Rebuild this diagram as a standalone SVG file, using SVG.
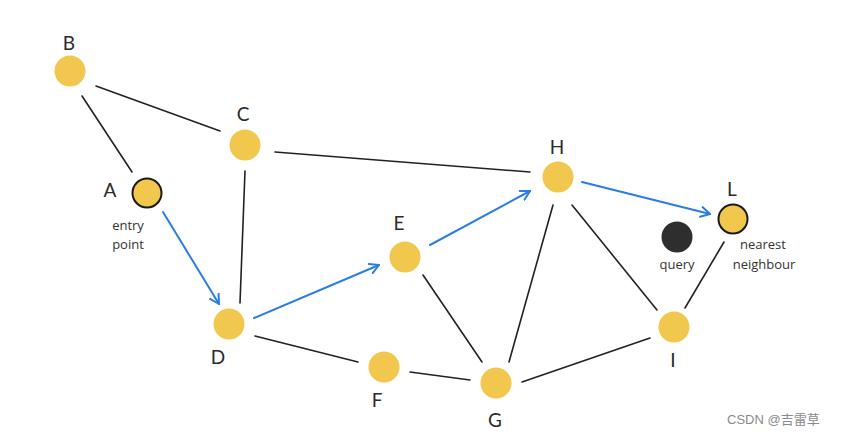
<svg xmlns="http://www.w3.org/2000/svg" width="842" height="438" viewBox="0 0 842 438">
<defs>
<style>
.n{fill:#F1C74E}
.ns{fill:#F1C74E;stroke:#1a1a1a;stroke-width:2}
.q{fill:#2e2e2e}
.e{stroke:#222;stroke-width:1.6;fill:none;stroke-linecap:round}
.a{stroke:#2a7de1;stroke-width:2;fill:none;stroke-linecap:round;marker-end:url(#arr)}
.lbl{font-family:"Lato","DejaVu Sans",sans-serif;font-size:19px;fill:#2a2a2a;text-anchor:middle}
.sm{font-family:"Open Sans","DejaVu Sans",sans-serif;font-size:13px;fill:#333;text-anchor:middle}
.wm{font-family:"Liberation Sans","Noto Sans CJK SC",sans-serif;font-size:13px;fill:#8a8a8a}
</style>
<marker id="arr" viewBox="0 0 12 12" refX="10" refY="6" markerWidth="12" markerHeight="12" markerUnits="userSpaceOnUse" orient="auto">
<path d="M1,1 L10,6 L1,11" fill="none" stroke="#2a7de1" stroke-width="2" stroke-linecap="round" stroke-linejoin="round"/>
</marker>
</defs>
<rect width="842" height="438" fill="#ffffff"/>
<g id="connectors">
<line class="e" x1="96" y1="86" x2="220" y2="131"/>
<line class="e" x1="82" y1="96" x2="132" y2="172"/>
<line class="e" x1="275" y1="152" x2="530" y2="172"/>
<line class="e" x1="245" y1="171" x2="240" y2="303"/>
<line class="e" x1="255" y1="336" x2="358" y2="362"/>
<line class="e" x1="410" y1="372" x2="470" y2="380"/>
<line class="e" x1="423" y1="275" x2="482" y2="362"/>
<line class="e" x1="509" y1="362" x2="553" y2="205"/>
<line class="e" x1="522" y1="382" x2="650" y2="338"/>
<line class="e" x1="572" y1="205" x2="657" y2="310"/>
<line class="e" x1="685" y1="308" x2="724" y2="242"/>
<line class="a" x1="163" y1="212" x2="219" y2="304"/>
<line class="a" x1="254" y1="318" x2="379" y2="265"/>
<line class="a" x1="430" y1="245" x2="530" y2="191"/>
<line class="a" x1="582" y1="182" x2="710" y2="214"/>
</g>
<g id="B"><circle class="n" cx="70" cy="71" r="15.5"/><text class="lbl" x="69" y="50">B</text></g>
<g id="C"><circle class="n" cx="245" cy="145" r="15.5"/><text class="lbl" x="243" y="121">C</text></g>
<g id="A"><circle class="ns" cx="147" cy="193" r="14.5"/><text class="lbl" x="110" y="197">A</text><text class="sm" x="128" y="230">entry</text><text class="sm" x="128" y="249">point</text></g>
<g id="D"><circle class="n" cx="229" cy="324" r="15.5"/><text class="lbl" x="218" y="364">D</text></g>
<g id="E"><circle class="n" cx="405" cy="257" r="15.5"/><text class="lbl" x="399" y="230">E</text></g>
<g id="H"><circle class="n" cx="558" cy="177" r="15.5"/><text class="lbl" x="557" y="154">H</text></g>
<g id="L"><circle class="ns" cx="733" cy="219" r="14.5"/><text class="lbl" x="732" y="196">L</text><text class="sm" x="763" y="249">nearest</text><text class="sm" x="764" y="269">neighbour</text></g>
<g id="query"><circle class="q" cx="677" cy="237" r="15.5"/><text class="sm" x="677" y="269">query</text></g>
<g id="I"><circle class="n" cx="674" cy="327" r="15.5"/><text class="lbl" x="673" y="367">I</text></g>
<g id="F"><circle class="n" cx="384" cy="367" r="15.5"/><text class="lbl" x="377" y="407">F</text></g>
<g id="G"><circle class="n" cx="496" cy="383" r="15.5"/><text class="lbl" x="495" y="427">G</text></g>
<text class="wm" x="727" y="424">CSDN @吉雷草</text>
</svg>
